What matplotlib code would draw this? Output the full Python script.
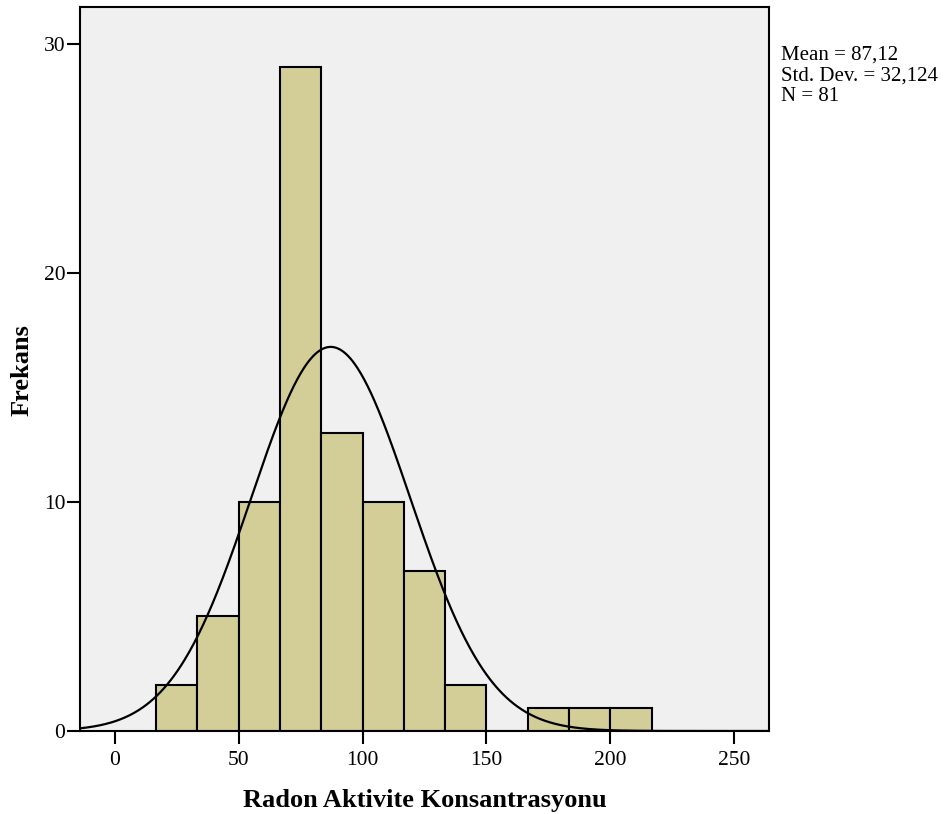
import numpy as np
import matplotlib
matplotlib.use('Agg')
import matplotlib.pyplot as plt

# histogram data
bin_edges = [50/3*k for k in range(1, 14)]
counts = [2, 5, 10, 29, 13, 10, 7, 2, 0, 1, 1, 1]
mean = 87.12
std = 32.124
n = 81
x_ticks = [0, 50, 100, 150, 200, 250]
y_ticks = [0, 10, 20, 30]

plt.rcParams['font.family'] = 'Liberation Serif'

fig = plt.figure(figsize=(9.46, 8.14), dpi=100)
ax = fig.add_axes([80/946, 83/814, 689/946, 724/814])
ax.set_facecolor('#f0f0f0')

widths = np.diff(bin_edges)
ax.bar(bin_edges[:-1], counts, width=widths, align='edge', color='#d3ce97',
       edgecolor='black', linewidth=1.5, zorder=2)

# normal curve scaled to the histogram
xs = np.linspace(-14.1, 264.1, 600)
bw = widths[0]
ys = n * bw / (std * np.sqrt(2 * np.pi)) * np.exp(-0.5 * ((xs - mean) / std) ** 2)
ax.plot(xs, ys, color='black', linewidth=1.6, zorder=3)

ax.set_xlim(-14.1, 264.1)
ax.set_ylim(0, 31.6)
ax.set_xticks(x_ticks)
ax.set_yticks(y_ticks)
ax.tick_params(axis='both', direction='out', length=9.5, width=1.5, labelsize=15.5)
ax.tick_params(axis='y', pad=1)
ax.tick_params(axis='x', pad=5)
for s in ax.spines.values():
    s.set_linewidth(1.5)

ax.set_xlabel('Radon Aktivite Konsantrasyonu', fontsize=19, fontweight='bold', va='baseline')
ax.xaxis.set_label_coords(0.5, (731 - 807) / 724)
ax.set_ylabel('Frekans', fontsize=19, fontweight='bold', va='baseline')
ax.yaxis.set_label_coords((29 - 80) / 689, (731 - 370) / 724)

fig.text(781/946, 1 - 46/814, 'Mean = 87,12\nStd. Dev. = 32,124\nN = 81',
         fontsize=15, va='top', ha='left', linespacing=1.12)

fig.savefig('out.png', dpi=100)
